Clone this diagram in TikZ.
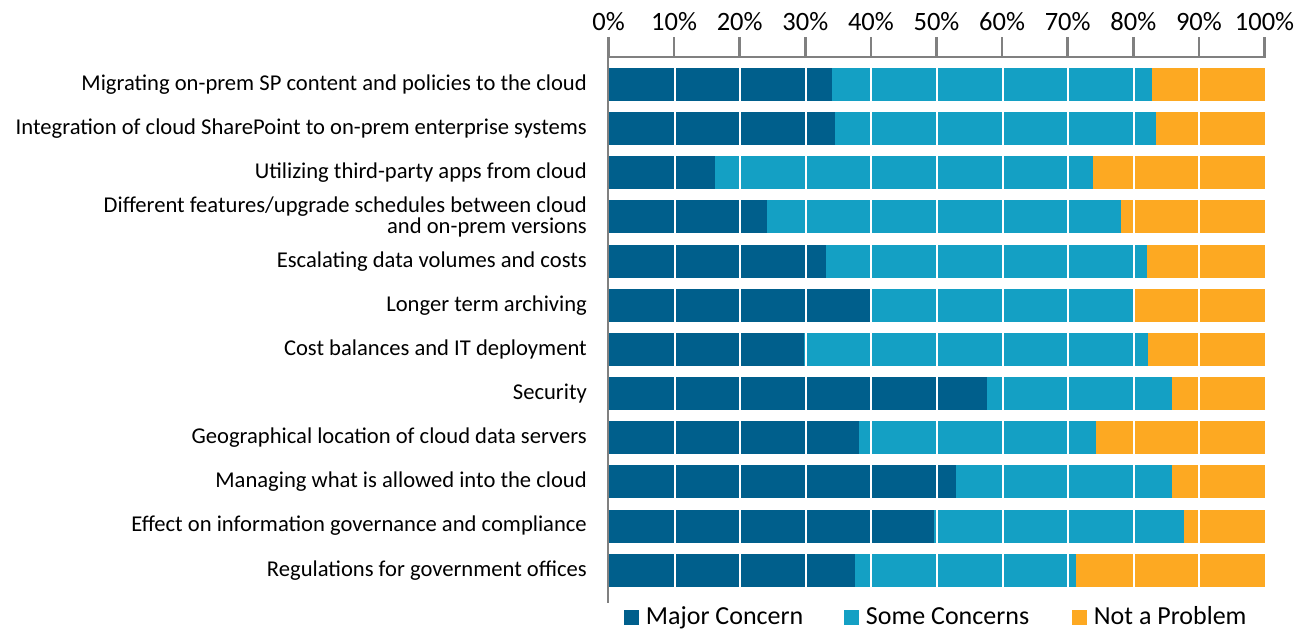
\documentclass[tikz,border=0pt]{standalone}
\usepackage{fontspec}
\setmainfont{Carlito}
\usetikzlibrary{positioning}
\definecolor{major}{RGB}{0,95,140}
\definecolor{some}{RGB}{20,160,196}
\definecolor{nopb}{RGB}{253,169,34}
\definecolor{axisgray}{RGB}{128,128,128}
\tikzset{
  rowlabel/.style={anchor=east,align=right,inner sep=0pt,font=\fontsize{22.6}{21}\selectfont},
  pctlabel/.style={anchor=base,inner sep=0pt,font=\fontsize{26.5}{28}\selectfont},
  legkey/.style={minimum width=15,minimum height=15,inner sep=0pt},
  legtext/.style={inner sep=0pt,text height=14,text depth=0,font=\fontsize{26}{28}\selectfont},
  axisline/.style={draw=axisgray,line width=2.5},
}

\begin{document}
\begin{tikzpicture}[x=1pt,y=-1pt]
    \useasboundingbox (0,0) rectangle (1313,630);
    % bars: label / major / major+some
    \foreach \lbl/\a/\b [count=\i] in {
        {Migrating on-prem SP content and policies to the cloud}/34.0/82.7,
        {Integration of cloud SharePoint to on-prem enterprise systems}/34.4/83.4,
        {Utilizing third-party apps from cloud}/16.2/73.8,
        {Different features/upgrade schedules between cloud\\and on-prem versions}/24.1/78.1,
        {Escalating data volumes and costs}/33.1/82.0,
        {Longer term archiving}/39.9/79.9,
        {Cost balances and IT deployment}/29.7/82.2,
        {Security}/57.6/85.8,
        {Geographical location of cloud data servers}/38.1/74.3,
        {Managing what is allowed into the cloud}/52.9/85.8,
        {Effect on information governance and compliance}/49.6/87.7,
        {Regulations for government offices}/37.5/71.2} {
        \pgfmathsetmacro{\y}{84.5+(\i-1)*44.15}
        \fill[major] (609,\y-16.5) rectangle ({609+6.56*\a},\y+16.5);
        \fill[some] ({609+6.56*\a},\y-16.5) rectangle ({609+6.56*\b},\y+16.5);
        \fill[nopb] ({609+6.56*\b},\y-16.5) rectangle (1265,\y+16.5);
        \node[rowlabel] (lbl\i) at (587,\y) {\lbl};
      }
    % white grid over the bars
    \foreach \k in {1,...,9}
      \draw[white,line width=2] ({609+65.6*\k},66) -- ({609+65.6*\k},589);
    % axes
    \draw[axisline] (608,37) -- (608,603);
    \draw[axisline] (608,57) -- (1266,57);
    \foreach \k in {0,...,10} {
        \draw[axisline] ({608.5+65.6*\k},37) -- ({608.5+65.6*\k},57);
        \pgfmathtruncatemacro{\p}{10*\k}
        \node[pctlabel] (pct\k) at ({608.5+65.6*\k},30) {\p\%};
      }
    % legend
    \node[legkey,fill=major] (keymajor) at (631.5,617.5) {};
    \node[legtext,right=6.5pt of keymajor] (txtmajor) {Major Concern};
    \node[legkey,fill=some] (keysome) at (851.5,617.5) {};
    \node[legtext,right=6.5pt of keysome] (txtsome) {Some Concerns};
    \node[legkey,fill=nopb] (keynopb) at (1079.5,617.5) {};
    \node[legtext,right=6.5pt of keynopb] (txtnopb) {Not a Problem};
  \end{tikzpicture}
\end{document}
